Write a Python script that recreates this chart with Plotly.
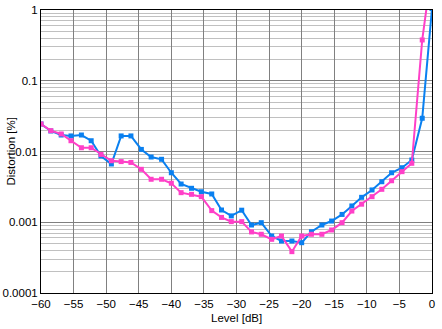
import plotly.graph_objects as go

level_db = [-60.0, -58.5, -56.9, -55.4, -53.8, -52.3, -50.8, -49.2, -47.7, -46.2,
            -44.6, -43.1, -41.5, -40.0, -38.5, -36.9, -35.4, -33.8, -32.3, -30.8,
            -29.2, -27.7, -26.2, -24.6, -23.1, -21.5, -20.0, -18.5, -16.9, -15.4,
            -13.8, -12.3, -10.8, -9.2, -7.7, -6.2, -4.6, -3.1, -1.5, 0.0]

blue_dist = [0.0245, 0.0195, 0.0171, 0.0166, 0.0171, 0.0142, 0.00864, 0.00666, 0.0166, 0.0166,
             0.0107, 0.00836, 0.00776, 0.00501, 0.00347, 0.00302, 0.00270, 0.00251, 0.00149, 0.00123,
             0.00148, 0.000914, 0.000986, 0.000639, 0.000543, 0.000543, 0.000514, 0.000735, 0.000914, 0.00104,
             0.00129, 0.00170, 0.00225, 0.00286, 0.00374, 0.00501, 0.00590, 0.00758, 0.0295, 1.05]

pink_dist = [0.0245, 0.0197, 0.0177, 0.0142, 0.0113, 0.0113, 0.0091, 0.0074, 0.0072, 0.0070,
             0.0056, 0.00405, 0.00405, 0.00356, 0.00262, 0.00248, 0.00230, 0.00146, 0.00117, 0.00102,
             0.00102, 0.00073, 0.000676, 0.000574, 0.000639, 0.000384, 0.000639, 0.000676, 0.000676, 0.000777,
             0.000986, 0.00144, 0.00180, 0.00230, 0.00292, 0.00386, 0.00519, 0.00681, 0.377, 4.0]

x_ticks = [-60, -55, -50, -45, -40, -35, -30, -25, -20, -15, -10, -5, 0]
y_ticks = [1, 0.1, 0.01, 0.001, 0.0001]
y_tick_text = ["1", "0.1", "0.01", "0.001", "0.0001"]

BLUE = "#0A80F0"
PINK = "#FF40C8"
FONT = "Liberation Sans, Arial, sans-serif"

fig = go.Figure()
fig.add_trace(go.Scatter(x=level_db, y=blue_dist, mode="lines+markers",
                         line=dict(color=BLUE, width=2),
                         marker=dict(symbol="square", size=5, color=BLUE),
                         showlegend=False, cliponaxis=True))
fig.add_trace(go.Scatter(x=level_db, y=pink_dist, mode="lines+markers",
                         line=dict(color=PINK, width=2),
                         marker=dict(symbol="square", size=5, color=PINK),
                         showlegend=False, cliponaxis=True))

fig.update_layout(
    width=442, height=329,
    margin=dict(l=41, r=10, t=10, b=36),
    paper_bgcolor="white", plot_bgcolor="white",
    font=dict(family=FONT, size=11.5, color="black"),
    annotations=[
        dict(text="Level [dB]", xref="paper", yref="paper", x=0.5, y=0,
             yshift=-25, xanchor="center", yanchor="middle", showarrow=False,
             font=dict(size=11.5)),
        dict(text="Distortion [%]", xref="paper", yref="paper", x=0, y=0.5,
             xshift=-31, xanchor="center", yanchor="middle", textangle=-90,
             showarrow=False, font=dict(size=11.5)),
    ],
)
fig.update_xaxes(
    range=[-60, 0], tickvals=x_ticks, ticks="", ticklen=0, automargin=False,
    showgrid=True, gridcolor="#808080", gridwidth=1,
    showline=True, linecolor="black", linewidth=1, mirror=True,
    zeroline=False,
    tickfont=dict(size=11.5),
)
fig.update_yaxes(
    type="log", range=[-4, 0], tickvals=y_ticks, ticktext=y_tick_text, ticks="",
    automargin=False,
    showgrid=True, gridcolor="#808080", gridwidth=1,
    minor=dict(dtick="D1", showgrid=True, gridcolor="#C0C0C0", gridwidth=1, ticks=""),
    showline=True, linecolor="black", linewidth=1, mirror=True,
    zeroline=False,
    tickfont=dict(size=11.5),
)

fig.write_html("out.html", config={"displayModeBar": False},
               post_script="document.body.style.margin='0';")
